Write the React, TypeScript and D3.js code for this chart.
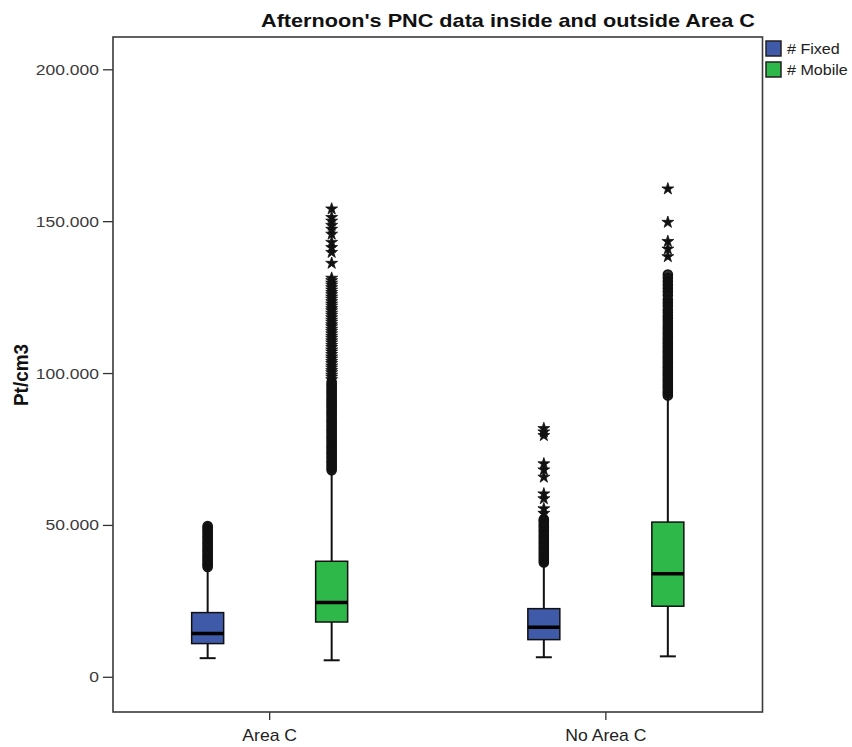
import React from "react";
import * as d3 from "d3";

// ---------- data (values in thousands of pt/cm3) ----------
const categories = ["Area C", "No Area C"];
const seriesNames = ["# Fixed", "# Mobile"];
const seriesColors = ["#3f5aa9", "#2eb84a"];
const yTicks = [0, 50, 100, 150, 200];
const yTickLabels = ["0", "50.000", "100.000", "150.000", "200.000"];

// [lower whisker, Q1, median, Q3, upper whisker]
const fixedAreaC = [6.3, 11.1, 14.4, 21.3, 35.6];
const mobileAreaC = [5.6, 18.2, 24.6, 38.2, 67.5];
const fixedNoAreaC = [6.6, 12.4, 16.5, 22.6, 37.3];
const mobileNoAreaC = [6.9, 23.4, 34.1, 51.1, 92.2];

// outliers (circles) and extremes (stars)
const fixedAreaCOut = [36.3, 36.9, 37.4, 38.0, 38.6, 39.1, 39.8, 40.3, 40.9, 41.6, 42.1, 42.7, 43.4, 44.0, 44.5, 45.1, 45.8, 46.3, 46.9, 47.6, 48.2, 48.7, 49.3, 49.8];
const fixedAreaCExt: number[] = [];

const mobileAreaCOut = [68.2, 68.8, 69.5, 70.1, 70.8, 71.3, 72.1, 72.7, 73.4, 73.9, 74.6, 75.3, 75.9, 76.5, 77.2, 77.9, 78.5, 79.1, 79.8, 80.5, 81.1, 81.7, 82.4, 83.0, 83.7, 84.3, 84.9, 85.6, 86.3, 86.9, 87.5, 88.2, 88.9, 89.5, 90.1, 90.8, 91.4, 92.0, 92.7, 93.4, 94.0, 94.6, 95.3, 96.0, 96.6, 97.3];
const mobileAreaCExt = [98.0, 98.8, 99.5, 100.3, 101.0, 101.8, 102.5, 103.3, 104.0, 104.8, 105.5, 106.3, 107.1, 107.8, 108.6, 109.3, 110.1, 110.8, 111.6, 112.3, 113.1, 113.9, 114.6, 115.4, 116.1, 116.9, 117.6, 118.4, 119.2, 119.9, 120.7, 121.4, 122.2, 122.9, 123.7, 124.5, 125.2, 126.0, 126.7, 127.5, 128.3, 129.1, 129.8, 130.6, 131.4, 136.3, 139.9, 141.5, 143.2, 145.9, 147.5, 148.8, 150.2, 151.4, 154.2];

const fixedNoAreaCOut = [37.8, 38.4, 39.0, 39.7, 40.3, 40.9, 41.6, 42.2, 42.8, 43.5, 44.1, 44.7, 45.4, 46.0, 46.6, 47.3, 47.9, 48.5, 49.2, 49.8, 50.4, 51.1, 51.6, 52.0];
const fixedNoAreaCExt = [54.0, 55.5, 58.8, 60.4, 65.9, 68.3, 70.3, 79.6, 80.8, 81.9];

const mobileNoAreaCOut = [92.8, 93.5, 94.1, 94.9, 95.6, 96.2, 97.0, 97.7, 98.3, 99.1, 99.8, 100.4, 101.2, 101.9, 102.5, 103.3, 104.0, 104.7, 105.4, 106.1, 106.9, 107.5, 108.3, 109.0, 109.8, 110.5, 111.3, 112.0, 112.9, 113.7, 114.6, 115.4, 116.3, 117.3, 118.2, 119.0, 120.1, 121.0, 122.2, 123.3, 124.4, 125.8, 127.0, 128.1, 129.2, 130.4, 131.5, 132.6];
const mobileNoAreaCExt = [138.5, 141.0, 143.5, 149.8, 160.8];

const groups = [
  { cat: "Area C", series: "# Fixed", stats: fixedAreaC, out: fixedAreaCOut, ext: fixedAreaCExt },
  { cat: "Area C", series: "# Mobile", stats: mobileAreaC, out: mobileAreaCOut, ext: mobileAreaCExt },
  { cat: "No Area C", series: "# Fixed", stats: fixedNoAreaC, out: fixedNoAreaCOut, ext: fixedNoAreaCExt },
  { cat: "No Area C", series: "# Mobile", stats: mobileNoAreaC, out: mobileNoAreaCOut, ext: mobileNoAreaCExt },
];

// ---------- layout ----------
const W = 852;
const H = 747;
const frame = { left: 113, right: 762.5, top: 37, bottom: 712 };
const boxW = 32;
const capW = 16;
const font = "'Liberation Sans', Arial, sans-serif";

export default function App() {
  const x = d3.scalePoint<string>().domain(categories).range([frame.left, frame.right]).padding(0.466);
  const xs = d3.scalePoint<string>().domain(seriesNames).range([-62, 62]);
  const color = d3.scaleOrdinal<string, string>().domain(seriesNames).range(seriesColors);
  const y = d3.scaleLinear().domain([0, 200]).range([677.3, 69.8]);
  const star = d3.symbol().type(d3.symbolStar).size(44)();

  return (
    <svg width={W} height={H} style={{ position: "absolute", left: 0, top: 0, display: "block", background: "#fff" }} fontFamily={font}>
      <rect x={0} y={0} width={W} height={H} fill="#fff" />
      {/* title */}
      <text x={508} y={27} textAnchor="middle" fontSize={19} fontWeight="bold" fill="#111" textLength={494} lengthAdjust="spacingAndGlyphs">
        Afternoon's PNC data inside and outside Area C
      </text>

      {/* y axis title */}
      <text transform={`translate(28,375) rotate(-90)`} textAnchor="middle" fontSize={21} fontWeight="bold" fill="#111" textLength={62} lengthAdjust="spacingAndGlyphs">
        Pt/cm3
      </text>

      {/* y ticks */}
      {yTicks.map((t, i) => (
        <g key={t}>
          <line x1={frame.left - 10} x2={frame.left} y1={y(t)} y2={y(t)} stroke="#333" strokeWidth={1.3} />
          <text transform={`translate(99,${y(t) + 5}) scale(1.25,1)`} textAnchor="end" fontSize={14} fill="#3a3a3a">
            {yTickLabels[i]}
          </text>
        </g>
      ))}

      {/* x ticks */}
      {categories.map((c) => (
        <g key={c}>
          <line x1={x(c)!} x2={x(c)!} y1={frame.bottom} y2={frame.bottom + 8} stroke="#333" strokeWidth={1.3} />
          <text transform={`translate(${x(c)},741) scale(1.1,1)`} textAnchor="middle" fontSize={16} fill="#222">
            {c}
          </text>
        </g>
      ))}

      {/* boxes */}
      {groups.map((g, i) => {
        const cx = x(g.cat)! + xs(g.series)!;
        const [lo, q1, med, q3, hi] = g.stats;
        return (
          <g key={i}>
            <line x1={cx} x2={cx} y1={y(lo)} y2={y(q1)} stroke="#111" strokeWidth={2} />
            <line x1={cx} x2={cx} y1={y(q3)} y2={y(hi)} stroke="#111" strokeWidth={2} />
            <line x1={cx - capW / 2} x2={cx + capW / 2} y1={y(lo)} y2={y(lo)} stroke="#111" strokeWidth={2} />
            <rect x={cx - boxW / 2} y={y(q3)} width={boxW} height={y(q1) - y(q3)} fill={color(g.series)} stroke="#111" strokeWidth={1.5} />
            <line x1={cx - boxW / 2} x2={cx + boxW / 2} y1={y(med)} y2={y(med)} stroke="#000" strokeWidth={3.5} />
            {g.out.map((v, j) => (
              <circle key={"o" + j} cx={cx} cy={y(v)} r={4.5} fill="#111" fillOpacity={0.85} stroke="#111" strokeWidth={1.6} />
            ))}
            {g.ext.map((v, j) => (
              <path key={"e" + j} d={star!} transform={`translate(${cx},${y(v)})`} fill="#111" stroke="#111" strokeWidth={0.8} />
            ))}
          </g>
        );
      })}

      {/* frame */}
      <rect x={frame.left} y={frame.top} width={frame.right - frame.left} height={frame.bottom - frame.top} fill="none" stroke="#3a3a3a" strokeWidth={1.6} />

      {/* legend */}
      {seriesNames.map((s, i) => (
        <g key={s} transform={`translate(766,${41 + i * 21})`}>
          <rect x={0} y={0} width={15} height={15} fill={color(s)} stroke="#222" strokeWidth={1.5} />
          <text transform={`translate(21,13) scale(1.15,1)`} fontSize={14} fill="#222">
            {s}
          </text>
        </g>
      ))}
    </svg>
  );
}
